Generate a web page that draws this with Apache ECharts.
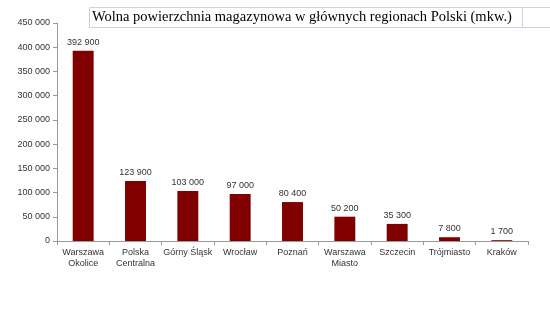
<!DOCTYPE html>
<html><head><meta charset="utf-8">
<script src="https://cdn.jsdelivr.net/npm/echarts@6/dist/echarts.min.js"></script>
<style>html,body{margin:0;padding:0;background:#fff}#c{width:550px;height:331px}</style>
</head><body><div id="c"></div>
<script>
const categories = ['Warszawa\nOkolice','Polska\nCentralna','Górny Śląsk','Wrocław','Poznań','Warszawa\nMiasto','Szczecin','Trójmiasto','Kraków'];
const values = [392900,123900,103000,97000,80400,50200,35300,7800,1700];
const titleText = 'Wolna powierzchnia magazynowa w głównych regionach Polski (mkw.)';
const fmt = v => String(v).replace(/\B(?=(\d{3})+(?!\d))/g, ' ');
const chart = echarts.init(document.getElementById('c'));
chart.setOption({
  animation:false,
  grid:{left:57,right:22,top:23,bottom:90,containLabel:false},
  xAxis:{type:'category',data:categories,
    axisLine:{lineStyle:{color:'#999'}},
    axisTick:{show:true,length:4,lineStyle:{color:'#999'}},
    axisLabel:{fontFamily:'Liberation Sans',fontSize:9,color:'#333',lineHeight:11,margin:6,interval:0}},
  yAxis:{type:'value',min:0,max:450000,interval:50000,
    axisLine:{show:true,lineStyle:{color:'#999'}},
    axisTick:{show:true,length:4,lineStyle:{color:'#999'}},
    splitLine:{show:false},
    axisLabel:{fontFamily:'Liberation Sans',fontSize:9,color:'#333',margin:7,formatter:fmt}},
  series:[{type:'bar',data:values,barWidth:'40%',itemStyle:{color:'#800000'},
    label:{show:true,position:'top',distance:4,fontFamily:'Liberation Sans',fontSize:9,color:'#333',formatter:p=>fmt(p.value)}}],
  graphic:[
    {type:'rect',shape:{x:89.5,y:7.5,width:470,height:20},style:{fill:'#fff',stroke:'#c9d1e3',lineWidth:1},z:10},
    {type:'line',shape:{x1:522.5,y1:7.5,x2:522.5,y2:27.5},style:{stroke:'#c9d1e3',lineWidth:1},z:10},
    {type:'text',x:92,y:17.5,style:{text:titleText,fontFamily:'Liberation Serif',fontSize:14.5,fill:'#000',textVerticalAlign:'middle'},z:11}
  ]
});
</script></body></html>
